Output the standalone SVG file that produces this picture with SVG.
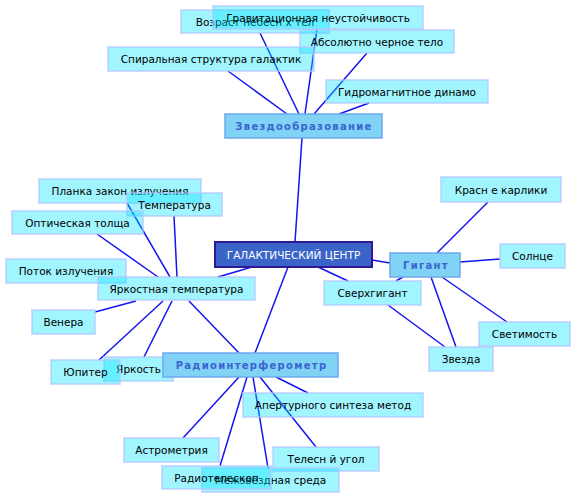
<svg xmlns="http://www.w3.org/2000/svg" width="576" height="499" viewBox="0 0 576 499">
<style>
.n rect{fill:#00e5ff;fill-opacity:.37;stroke:#b0c4ff;stroke-opacity:.6;stroke-width:2}
.n text{font-family:"DejaVu Sans",sans-serif;font-size:10.5px;fill:#000;text-anchor:middle}
.h rect{fill:#80d3f5;stroke:#6ea8ee;stroke-width:1.5}
.h text{font-family:"DejaVu Sans",sans-serif;font-size:10px;font-weight:bold;fill:#3a62d0;letter-spacing:1.3px;text-anchor:middle}
.c rect{fill:#3a64c8;stroke:#2d1896;stroke-width:2}
.c text{font-family:"DejaVu Sans",sans-serif;font-size:10.5px;fill:#fff;text-anchor:middle}
#edges line{stroke:#1414f0;stroke-width:1.5}
</style>
<rect width="576" height="499" fill="#fff"/>
<g id="edges">
<line x1="228" y1="71" x2="287" y2="114"/>
<line x1="260" y1="33" x2="299" y2="114"/>
<line x1="317" y1="29" x2="305" y2="114"/>
<line x1="367" y1="53" x2="314" y2="114"/>
<line x1="369" y1="103" x2="339" y2="114"/>
<line x1="302" y1="138" x2="295" y2="242"/>
<line x1="372" y1="260" x2="390" y2="263"/>
<line x1="318" y1="267" x2="348" y2="281"/>
<line x1="252" y1="267" x2="218" y2="277"/>
<line x1="288" y1="267" x2="255" y2="353"/>
<line x1="488" y1="202" x2="437" y2="253"/>
<line x1="500" y1="259" x2="460" y2="262"/>
<line x1="403" y1="277" x2="396" y2="281"/>
<line x1="442" y1="277" x2="507" y2="322"/>
<line x1="431" y1="277" x2="456" y2="347"/>
<line x1="388" y1="305" x2="445" y2="347"/>
<line x1="97" y1="234" x2="158" y2="277"/>
<line x1="127" y1="203" x2="170" y2="277"/>
<line x1="174" y1="216" x2="177" y2="277"/>
<line x1="95" y1="312" x2="136" y2="301"/>
<line x1="99" y1="360" x2="163" y2="301"/>
<line x1="144" y1="357" x2="172" y2="301"/>
<line x1="189" y1="301" x2="239" y2="353"/>
<line x1="276" y1="377" x2="308" y2="393"/>
<line x1="239" y1="377" x2="183" y2="438"/>
<line x1="260" y1="377" x2="316" y2="447"/>
<line x1="247" y1="377" x2="220" y2="466"/>
<line x1="253" y1="377" x2="268" y2="468"/>
</g>
<g id="n-vozrast" class="n"><rect x="181" y="10" width="148" height="23"/><text x="255" y="25.5">Возраст небесн х тел</text></g>
<g id="n-grav" class="n"><rect x="213" y="6" width="210" height="23"/><text x="318" y="21.5">Гравитационная неустойчивость</text></g>
<g id="n-abs" class="n"><rect x="300" y="30" width="154" height="23"/><text x="377" y="45.5">Абсолютно черное тело</text></g>
<g id="n-spir" class="n"><rect x="108" y="47" width="206" height="24"/><text x="211" y="63">Спиральная структура галактик</text></g>
<g id="n-gidro" class="n"><rect x="326" y="80" width="162" height="23"/><text x="407" y="95.5">Гидромагнитное динамо</text></g>
<g id="n-planka" class="n"><rect x="39" y="179" width="162" height="24"/><text x="120" y="195">Планка закон излучения</text></g>
<g id="n-temp" class="n"><rect x="127" y="193" width="95" height="23"/><text x="174.5" y="208.5">Температура</text></g>
<g id="n-opt" class="n"><rect x="12" y="211" width="131" height="23"/><text x="77.5" y="226.5">Оптическая толща</text></g>
<g id="n-potok" class="n"><rect x="6" y="259" width="120" height="24"/><text x="66" y="275">Поток излучения</text></g>
<g id="n-yarkt" class="n"><rect x="98" y="277" width="157" height="23"/><text x="176.5" y="292.5">Яркостная температура</text></g>
<g id="n-venera" class="n"><rect x="32" y="310" width="63" height="24"/><text x="63.5" y="326">Венера</text></g>
<g id="n-yarkost" class="n"><rect x="104" y="357" width="69" height="24"/><text x="138.5" y="373">Яркость</text></g>
<g id="n-jupiter" class="n"><rect x="51" y="360" width="69" height="24"/><text x="85.5" y="376">Юпитер</text></g>
<g id="n-apert" class="n"><rect x="243" y="393" width="180" height="24"/><text x="333" y="409">Апертурного синтеза метод</text></g>
<g id="n-astro" class="n"><rect x="124" y="438" width="95" height="24"/><text x="171.5" y="454">Астрометрия</text></g>
<g id="n-telesn" class="n"><rect x="273" y="447" width="106" height="24"/><text x="326" y="463">Телесн й угол</text></g>
<g id="n-mezh" class="n"><rect x="202" y="468" width="137" height="24"/><text x="270.5" y="484">Межзвездная среда</text></g>
<g id="n-radiotel" class="n"><rect x="162" y="466" width="109" height="23"/><text x="216.5" y="481.5">Радиотелескоп</text></g>
<g id="n-krasn" class="n"><rect x="441" y="177" width="120" height="25"/><text x="501" y="193.5">Красн е карлики</text></g>
<g id="n-solnce" class="n"><rect x="500" y="244" width="65" height="24"/><text x="532.5" y="260">Солнце</text></g>
<g id="n-sverh" class="n"><rect x="324" y="281" width="97" height="24"/><text x="372.5" y="297">Сверхгигант</text></g>
<g id="n-svet" class="n"><rect x="479" y="322" width="91" height="24"/><text x="524.5" y="338">Светимость</text></g>
<g id="n-zvezda" class="n"><rect x="429" y="347" width="64" height="24"/><text x="461" y="363">Звезда</text></g>
<g id="n-zvezdoobr" class="h"><rect x="225" y="114" width="157" height="24"/><text x="304" y="129.5">Звездообразование</text></g>
<g id="n-gigant" class="h"><rect x="390" y="253" width="70" height="24"/><text x="426" y="268.5">Гигант</text></g>
<g id="n-radio" class="h"><rect x="163" y="353" width="175" height="24"/><text x="251.5" y="368.5">Радиоинтерферометр</text></g>
<g id="n-center" class="c"><rect x="215" y="242" width="157" height="25"/><text x="293.5" y="258.5">ГАЛАКТИЧЕСКИЙ ЦЕНТР</text></g>
</svg>
